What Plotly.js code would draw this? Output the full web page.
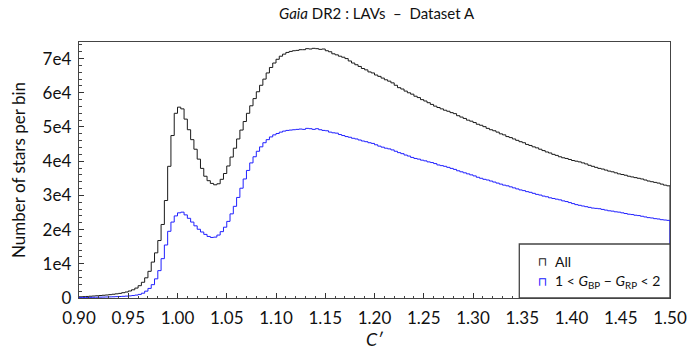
<!DOCTYPE html>
<html>
<head>
<meta charset="utf-8">
<script src="https://cdn.plot.ly/plotly-3.0.1.min.js"></script>
<style>html,body{margin:0;padding:0;background:#fff;}#chart{width:691px;height:346px;}</style>
</head>
<body>
<div id="chart"></div>
<script>
// Histogram range and bin count (0.90 to 1.50)
const binLo = 0.90;
const binHi = 1.50;
const nBins = 180;

// Counts per bin: all LAVs
const countsAll = [
  350,400,450,520,580,650,720,800,880,980,
  1100,1220,1350,1550,1750,2050,2400,2900,3600,4600,
  5900,7800,10500,13200,16800,21500,28500,38500,47500,54000,
  55800,55300,52300,49200,46300,43500,40600,37900,35600,34300,
  33500,33100,33400,34700,36400,38600,41200,43800,46500,49100,
  51600,54000,56200,58300,60300,62200,64000,65800,67400,68700,
  69800,70700,71300,71800,72100,72300,72400,72600,72600,72900,
  72800,73000,72900,72700,72800,72300,72000,71400,71100,70700,
  70400,70000,69300,68700,68200,67700,67100,66700,66100,65800,
  65200,64800,64300,63800,63400,62900,62200,61500,61100,60500,
  60000,59600,59000,58600,58000,57600,57100,56600,56100,55700,
  55300,54900,54600,54200,53900,53300,52900,52500,52000,51700,
  51300,50800,50500,50100,49600,49200,48900,48500,48000,47700,
  47200,46900,46500,46100,45700,45400,44900,44600,44200,43900,
  43500,43100,42700,42400,42000,41700,41300,41000,40800,40500,
  40200,40000,39800,39500,39200,38800,38500,38200,37900,37700,
  37400,37100,36900,36600,36300,36100,35900,35600,35400,35200,
  35000,34800,34500,34200,34000,33800,33600,33300,33000,32800
];

// Counts per bin: 1 < G_BP - G_RP < 2
const countsColour = [
  120,140,160,180,200,220,240,270,300,330,
  360,400,440,490,550,620,720,850,1050,1400,
  2000,2800,3900,5600,8000,11500,15500,19500,22200,24000,
  24900,25100,24300,23300,22200,21100,20100,19300,18600,18000,
  17700,17800,18400,19400,20700,22400,24600,26800,29400,32100,
  34800,37300,39500,41300,42900,44200,45400,46300,47100,47700,
  48100,48500,48800,49000,49100,49200,49300,49400,49300,49600,
  49500,49300,49500,49200,49000,48900,48500,48300,48200,47800,
  47500,47200,47000,46700,46500,46200,45900,45700,45400,45200,
  44800,44400,44100,43800,43600,43300,42900,42500,42200,41800,
  41500,41100,40800,40600,40300,40100,39800,39600,39300,38900,
  38700,38500,38200,37900,37600,37200,36900,36600,36300,36000,
  35700,35300,35000,34700,34500,34200,33900,33600,33300,33000,
  32800,32500,32200,31900,31600,31400,31100,30900,30600,30300,
  30100,29800,29600,29300,29100,28900,28700,28400,28200,27900,
  27600,27300,27100,26900,26700,26500,26300,26200,26100,25900,
  25700,25500,25400,25200,25100,24900,24700,24500,24400,24200,
  24100,23900,23700,23500,23400,23200,23100,22900,22800,22700
];

const seriesNames = ['All', '1 &lt; <i>G</i><sub>BP</sub> − <i>G</i><sub>RP</sub> &lt; 2'];
const xTickVals = [0.90,0.95,1.00,1.05,1.10,1.15,1.20,1.25,1.30,1.35,1.40,1.45,1.50];
const xTickText = ['0.90','0.95','1.00','1.05','1.10','1.15','1.20','1.25','1.30','1.35','1.40','1.45','1.50'];
const yTickVals = [0,10000,20000,30000,40000,50000,60000,70000];
const yTickText = ['0','1e4','2e4','3e4','4e4','5e4','6e4','7e4'];

// step outline: bin edges with final value repeated, closed to zero at both ends
function stepTrace(counts, color, name) {
  const w = (binHi - binLo) / nBins;
  const xs = [binLo], ys = [0];
  for (let i = 0; i < counts.length; i++) { xs.push(binLo + i * w); ys.push(counts[i]); }
  xs.push(binHi); ys.push(counts[counts.length - 1]);
  xs.push(binHi); ys.push(0);
  return {x: xs, y: ys, type: 'scatter', mode: 'lines', name: name,
          line: {shape: 'hv', color: color, width: 1}, hoverinfo: 'skip', showlegend: false};
}

const FONT = 'Lato, "DejaVu Sans", sans-serif';
const traces = [
  stepTrace(countsAll, '#1a1a1a', seriesNames[0]),
  stepTrace(countsColour, '#2020ff', seriesNames[1])
];

const layout = {
  width: 691, height: 346,
  margin: {l: 79, r: 21, t: 42, b: 48},
  paper_bgcolor: '#fff', plot_bgcolor: '#fff',
  font: {family: FONT, size: 16, color: '#111'},
  title: {text: '<i>Gaia</i> DR2 : LAVs  –  Dataset A', x: 0.545, xanchor: 'center', y: 0.96, yanchor: 'middle',
          font: {family: FONT, size: 15, color: '#111'}},
  xaxis: {range: [binLo, binHi], tickmode: 'array', tickvals: xTickVals, ticktext: xTickText,
          ticks: 'inside', ticklen: 5, tickcolor: '#333', showgrid: false, zeroline: false,
          showline: true, linecolor: '#444', linewidth: 1.3, mirror: true, ticklabelstandoff: 4,
          minor: {dtick: 0.01, ticks: 'inside', ticklen: 2.5, tickcolor: '#444', showgrid: false},
          tickfont: {family: FONT, size: 17, color: '#111'}},
  yaxis: {range: [0, 74850], tickmode: 'array', tickvals: yTickVals, ticktext: yTickText,
          ticks: 'inside', ticklen: 5, tickcolor: '#333', showgrid: false, zeroline: false,
          showline: true, linecolor: '#444', linewidth: 1.3, mirror: true, ticklabelstandoff: 3,
          minor: {dtick: 2000, ticks: 'inside', ticklen: 2.5, tickcolor: '#444', showgrid: false},
          tickfont: {family: FONT, size: 17, color: '#111'},
          title: {text: 'Number of stars per bin', font: {family: FONT, size: 17, color: '#111'}, standoff: 12}},
  shapes: [
    {type: 'rect', xref: 'paper', yref: 'paper', x0: 0.745, x1: 1, y0: 0, y1: 0.2109,
     line: {color: '#444', width: 1.3}, fillcolor: '#fff', layer: 'above'}
  ],
  annotations: [
    {xref: 'paper', yref: 'paper', x: 0.5, y: -0.11, xanchor: 'center', yanchor: 'top', showarrow: false,
     text: '<i>C′</i>', font: {family: FONT, size: 18, color: '#111'}},
    {xref: 'paper', yref: 'paper', x: 0.785, y: 0.142, xanchor: 'center', yanchor: 'middle', showarrow: false,
     text: '⊓', font: {family: 'DejaVu Sans', size: 12, color: '#1a1a1a'}},
    {xref: 'paper', yref: 'paper', x: 0.802, y: 0.142, xanchor: 'left', yanchor: 'middle', showarrow: false,
     text: seriesNames[0], font: {family: FONT, size: 14, color: '#111'}},
    {xref: 'paper', yref: 'paper', x: 0.785, y: 0.064, xanchor: 'center', yanchor: 'middle', showarrow: false,
     text: '⊓', font: {family: 'DejaVu Sans', size: 12, color: '#2020ff'}},
    {xref: 'paper', yref: 'paper', x: 0.802, y: 0.064, xanchor: 'left', yanchor: 'middle', showarrow: false,
     text: seriesNames[1], font: {family: FONT, size: 14, color: '#111'}}
  ],
  showlegend: false
};

Plotly.newPlot('chart', traces, layout, {staticPlot: true, displayModeBar: false});
</script>
</body>
</html>
